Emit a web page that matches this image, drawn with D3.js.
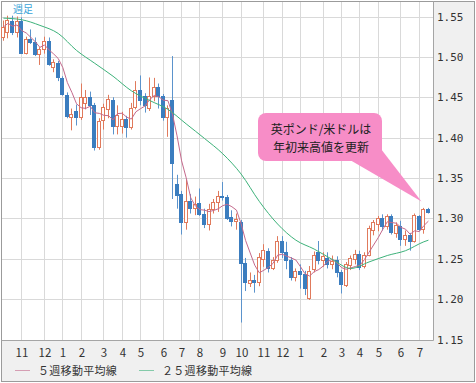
<!DOCTYPE html>
<html>
<head>
<meta charset="utf-8">
<script src="https://cdn.jsdelivr.net/npm/d3@7"></script>
<style>
  body { margin: 0; background: #fff; }
  svg { display: block; }
</style>
</head>
<body>
<div id="chart"></div>
<script>
// weekly GBP/USD, Oct 2015 - Jul 2017
const opens = [
  1.524, 1.531, 1.545, 1.531, 1.545, 1.505, 1.522, 1.519, 1.503, 1.510,
  1.520, 1.487, 1.493, 1.474, 1.453, 1.425, 1.433, 1.425, 1.443, 1.450,
  1.440, 1.389, 1.422, 1.436, 1.447, 1.414, 1.415, 1.423, 1.413, 1.438,
  1.459, 1.452, 1.437, 1.452, 1.463, 1.451, 1.426, 1.447, 1.343, 1.330,
  1.295, 1.321, 1.313, 1.319, 1.306, 1.293, 1.312, 1.320, 1.328, 1.326,
  1.302, 1.297, 1.296, 1.245, 1.220, 1.224, 1.221, 1.250, 1.259, 1.239,
  1.248, 1.272, 1.258, 1.249, 1.228, 1.235, 1.231, 1.201, 1.237, 1.258,
  1.248, 1.251, 1.243, 1.249, 1.233, 1.218, 1.242, 1.250, 1.256, 1.241,
  1.255, 1.285, 1.293, 1.301, 1.291, 1.303, 1.282, 1.290, 1.274, 1.279,
  1.272, 1.303, 1.287, 1.311
]
const highs = [
  1.545, 1.551, 1.551, 1.550, 1.549, 1.525, 1.534, 1.524, 1.512, 1.525,
  1.524, 1.497, 1.495, 1.476, 1.456, 1.436, 1.441, 1.467, 1.459, 1.457,
  1.443, 1.424, 1.442, 1.453, 1.450, 1.440, 1.432, 1.427, 1.443, 1.470,
  1.477, 1.455, 1.4745, 1.474, 1.467, 1.454, 1.440, 1.501, 1.354, 1.334,
  1.348, 1.330, 1.327, 1.337, 1.312, 1.318, 1.324, 1.334, 1.345, 1.329,
  1.310, 1.306, 1.298, 1.251, 1.233, 1.230, 1.257, 1.268, 1.263, 1.252,
  1.278, 1.278, 1.271, 1.252, 1.238, 1.243, 1.235, 1.241, 1.259, 1.272,
  1.258, 1.258, 1.254, 1.253, 1.236, 1.246, 1.254, 1.261, 1.260, 1.258,
  1.291, 1.298, 1.303, 1.305, 1.305, 1.305, 1.295, 1.297, 1.285, 1.282,
  1.306, 1.304, 1.313, 1.313
]
const lows = [
  1.520, 1.523, 1.527, 1.524, 1.504, 1.503, 1.516, 1.501, 1.490, 1.504,
  1.489, 1.481, 1.470, 1.452, 1.424, 1.409, 1.415, 1.422, 1.435, 1.428,
  1.384, 1.385, 1.410, 1.424, 1.404, 1.404, 1.405, 1.400, 1.410, 1.435,
  1.440, 1.431, 1.433, 1.445, 1.436, 1.421, 1.401, 1.324, 1.312, 1.280,
  1.286, 1.306, 1.304, 1.303, 1.288, 1.285, 1.306, 1.308, 1.322, 1.298,
  1.290, 1.286, 1.171, 1.210, 1.215, 1.208, 1.216, 1.240, 1.233, 1.236,
  1.245, 1.251, 1.237, 1.223, 1.222, 1.213, 1.205, 1.199, 1.233, 1.243,
  1.240, 1.238, 1.237, 1.227, 1.207, 1.215, 1.236, 1.243, 1.236, 1.238,
  1.253, 1.279, 1.284, 1.285, 1.286, 1.280, 1.276, 1.266, 1.266, 1.260,
  1.270, 1.284, 1.281, 1.306
]
const closes = [
  1.537, 1.546, 1.531, 1.544, 1.505, 1.522, 1.519, 1.503, 1.510, 1.520,
  1.491, 1.494, 1.475, 1.454, 1.427, 1.429, 1.425, 1.450, 1.450, 1.440,
  1.389, 1.421, 1.438, 1.448, 1.414, 1.428, 1.423, 1.413, 1.437, 1.459,
  1.447, 1.440, 1.452, 1.463, 1.451, 1.426, 1.437, 1.368, 1.329, 1.296,
  1.321, 1.313, 1.318, 1.306, 1.293, 1.312, 1.320, 1.328, 1.326, 1.301,
  1.297, 1.299, 1.245, 1.221, 1.224, 1.221, 1.252, 1.261, 1.239, 1.248,
  1.272, 1.258, 1.249, 1.228, 1.235, 1.231, 1.214, 1.235, 1.255, 1.248,
  1.253, 1.243, 1.247, 1.233, 1.219, 1.243, 1.251, 1.256, 1.240, 1.255,
  1.288, 1.296, 1.301, 1.291, 1.303, 1.283, 1.292, 1.275, 1.280, 1.272,
  1.304, 1.287, 1.312, 1.308
]

// 25 week average, read every 4th week
const ma25Weeks = [0, 4, 8, 12, 16, 20, 24, 28, 32, 36, 40, 44, 48, 52, 56, 60, 64, 68, 72, 76, 80, 84, 88, 92, 93]
const ma25Values = [1.548, 1.546, 1.539, 1.529, 1.508, 1.492, 1.476, 1.458, 1.446, 1.435, 1.417, 1.399, 1.380,
  1.355, 1.321, 1.293, 1.273, 1.262, 1.249, 1.238, 1.246, 1.254, 1.260, 1.271, 1.273]

const priceTicks = [1.15, 1.20, 1.25, 1.30, 1.35, 1.40, 1.45, 1.50, 1.55]
const legendNames = ['５週移動平均線', '２５週移動平均線']
const noteLines = ['英ポンド/米ドルは', '年初来高値を更新']

const W = 476, H = 383
const plot = { left: 2, top: 2, right: 433, bottom: 340 }
const upColor = '#e07a5c', downColor = '#3b7dbf'
const ma5Color = '#c4698c', ma25Color = '#3db27a'
const font = '"Noto Sans CJK JP", "DejaVu Sans", sans-serif'

const weeks = d3.timeMonday.range(new Date(2015, 9, 5), new Date(2017, 6, 18))

const svg = d3.select('#chart')
  .append('svg')
  .attr('width', W)
  .attr('height', H)

svg.append('rect')
  .attr('x', 1.5).attr('y', 1.5)
  .attr('width', W - 3).attr('height', H - 3)
  .attr('fill', '#f0f0f0')
  .attr('stroke', '#9b9b9b')

svg.append('rect')
  .attr('x', plot.left).attr('y', plot.top)
  .attr('width', plot.right - plot.left).attr('height', plot.bottom - plot.top)
  .attr('fill', '#fff')

const x = d3.scaleBand()
  .domain(d3.range(weeks.length))
  .range([1.1, 430.7])

const cx = i => Math.floor(x(i) + x.bandwidth() / 2)

const y = d3.scaleLinear()
  .domain([1.15, 1.55])
  .range([339.5, 16.5])

const py = v => Math.round(y(v)) + 0.5

// grid
const monthStarts = d3.range(weeks.length).filter(i => i > 0 && weeks[i].getDate() <= 7)

svg.append('g')
  .attr('stroke', '#d9d9d9')
  .selectAll('line.h')
  .data(priceTicks)
  .join('line')
  .attr('x1', plot.left).attr('x2', plot.right)
  .attr('y1', d => py(d)).attr('y2', d => py(d))

svg.append('g')
  .attr('stroke', '#d9d9d9')
  .selectAll('line')
  .data(monthStarts)
  .join('line')
  .attr('x1', d => cx(d) + 0.5).attr('x2', d => cx(d) + 0.5)
  .attr('y1', plot.top).attr('y2', plot.bottom)

// plot frame (right and bottom)
svg.append('path')
  .attr('d', `M${plot.right + 0.5},1.5V${plot.bottom + 0.5}H1.5`)
  .attr('fill', 'none')
  .attr('stroke', '#a5a5a5')

// right price axis
const yAxis = svg.append('g')
  .attr('transform', `translate(${plot.right},0)`)
  .call(d3.axisRight(y).tickValues(priceTicks).tickFormat(d3.format('.2f')).tickSize(0).tickPadding(4))
yAxis.select('.domain').remove()
yAxis.selectAll('text')
  .attr('font-family', '"DejaVu Sans Mono", monospace')
  .attr('font-size', 11)
  .attr('fill', '#333')

// month labels
svg.append('g')
  .selectAll('text')
  .data(monthStarts)
  .join('text')
  .attr('x', d => cx(d) + 1)
  .attr('y', 357)
  .attr('text-anchor', 'middle')
  .attr('font-family', font)
  .attr('font-size', 11.5)
  .attr('fill', '#333')
  .text(d => weeks[d].getMonth() + 1)

// candles
const candles = svg.append('g')
  .selectAll('g')
  .data(d3.range(weeks.length))
  .join('g')

candles.append('line')
  .attr('x1', i => cx(i) + 0.5).attr('x2', i => cx(i) + 0.5)
  .attr('y1', i => y(highs[i])).attr('y2', i => y(lows[i]))
  .attr('stroke', i => closes[i] >= opens[i] ? upColor : '#5b93cc')

candles.append('rect')
  .attr('x', i => cx(i) - 1.5)
  .attr('width', 3)
  .attr('y', i => py(Math.max(opens[i], closes[i])))
  .attr('height', i => Math.max(1, Math.abs(Math.round(y(opens[i])) - Math.round(y(closes[i])))))
  .attr('fill', i => closes[i] >= opens[i] ? '#fff' : downColor)
  .attr('stroke', i => closes[i] >= opens[i] ? upColor : downColor)

// moving averages
const ma5 = closes.map((c, i) => d3.mean(closes.slice(Math.max(0, i - 4), i + 1)))

svg.append('path')
  .datum(ma5)
  .attr('fill', 'none')
  .attr('stroke', ma5Color)
  .attr('d', d3.line().x((d, i) => x(i) + x.bandwidth() / 2).y(d => y(d)))

svg.append('path')
  .datum(ma25Weeks.map((w, k) => [w, ma25Values[k]]))
  .attr('fill', 'none')
  .attr('stroke', ma25Color)
  .attr('d', d3.line().curve(d3.curveMonotoneX).x(d => x(d[0]) + x.bandwidth() / 2).y(d => y(d[1])))

// callout
const note = svg.append('g')
note.append('path')
  .attr('d', 'M350,160L381,149L421.5,201.5Z')
  .attr('fill', '#f78dc7')
note.append('rect')
  .attr('x', 258).attr('y', 113)
  .attr('width', 124).attr('height', 48)
  .attr('rx', 8)
  .attr('fill', '#f78dc7')
note.selectAll('text')
  .data(noteLines)
  .join('text')
  .attr('x', 321)
  .attr('y', (d, i) => 134 + i * 18)
  .attr('text-anchor', 'middle')
  .attr('font-family', font)
  .attr('font-size', 12)
  .attr('fill', '#222')
  .text(d => d)

// top-left label
svg.append('text')
  .attr('x', 13).attr('y', 13)
  .attr('font-family', font)
  .attr('font-size', 10)
  .attr('fill', '#3aa3d9')
  .text('週足')

// legend
const legend = svg.append('g')
  .selectAll('g')
  .data(legendNames)
  .join('g')
  .attr('transform', (d, i) => `translate(${[15, 139][i]},0)`)
legend.append('line')
  .attr('x1', 0).attr('x2', 15)
  .attr('y1', 370.5).attr('y2', 370.5)
  .attr('stroke', (d, i) => [ma5Color, ma25Color][i])
  .attr('opacity', 0.6)
legend.append('text')
  .attr('x', 23).attr('y', 375)
  .attr('font-family', font)
  .attr('font-size', 11)
  .attr('letter-spacing', 0.3)
  .attr('fill', '#333')
  .text(d => d)
</script>
</body>
</html>
